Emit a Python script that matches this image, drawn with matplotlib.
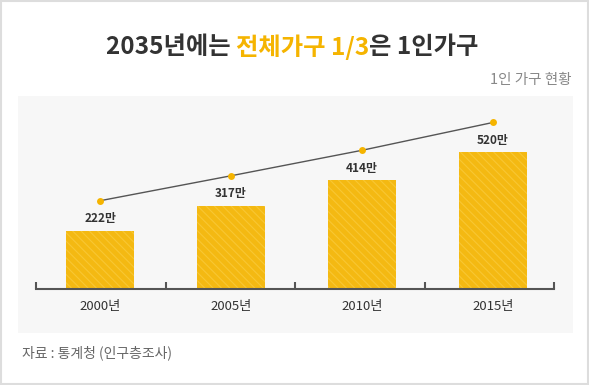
import numpy as np
import matplotlib
matplotlib.use('Agg')
import matplotlib.pyplot as plt
from matplotlib.patches import Rectangle
from matplotlib.transforms import offset_copy

plt.rcParams['font.family'] = ['Noto Sans CJK KR', 'DejaVu Sans']

years = ['2000년', '2005년', '2010년', '2015년']
households = [222, 317, 414, 520]   # 1인 가구 (만)
value_labels = ['222만', '317만', '414만', '520만']

title_parts = [('2035년에는 ', '#333333'), ('전체가구 1/3', '#f5b400'), ('은 1인가구', '#333333')]
subtitle = '1인 가구 현황'
source = '자료 : 통계청 (인구층조사)'

W, H = 589, 385
fig = plt.figure(figsize=(W/100, H/100), dpi=100)
fig.patch.set_facecolor('white')

def px(x0, y0, x1, y1):
    # pixel box (top-left origin) -> figure fraction [l, b, w, h]
    return [x0/W, 1 - y1/H, (x1 - x0)/W, (y1 - y0)/H]

# outer border and gray panel
l, b, w, h = px(1, 1, 588, 384)
fig.patches.append(Rectangle((l, b), w, h, transform=fig.transFigure,
                             facecolor='none', edgecolor='#dddddd', lw=1.5, zorder=-5))
l, b, w, h = px(18, 96, 573, 333)
fig.patches.append(Rectangle((l, b), w, h, transform=fig.transFigure,
                             facecolor='#f7f7f7', edgecolor='none', zorder=-5))

ax = fig.add_axes(px(36, 96, 554, 289))
ax.set_facecolor('none')
x = np.arange(len(years))

plt.rcParams['hatch.linewidth'] = 0.8
bars = ax.bar(x, households, width=0.52, color='#f4b912', edgecolor='#f8c733',
              hatch='\\\\\\\\', linewidth=0, zorder=2)

for xi, v, lab in zip(x, households, value_labels):
    ax.annotate(lab, (xi, v), xytext=(0, 12), textcoords='offset pixels',
                ha='center', va='center', fontsize=8.5, fontweight='bold', color='#333333')

# trend line floats above the bars
tr = offset_copy(ax.transData, fig=fig, x=0, y=30, units='dots')
ax.plot(x, households, color='#555555', lw=1.0, transform=tr, zorder=3)
ax.plot(x, households, 'o', color='#f5b400', ms=5, mec='none', transform=tr, zorder=4)

xlim = (-0.49, 3.466)
ax.set_xlim(*xlim)
ax.set_ylim(0, 735)
for s in ['top', 'left', 'right']:
    ax.spines[s].set_visible(False)
ax.spines['bottom'].set_color('#555555')
ax.spines['bottom'].set_linewidth(1.5)
ax.set_yticks([])
ax.set_xticks(x)
ax.set_xticklabels(years, fontsize=9.5, color='#333333', fontweight='medium')
ax.tick_params(axis='x', which='major', length=0, pad=8)
ax.set_xticks(np.linspace(xlim[0], xlim[1], 5), minor=True)
ax.tick_params(axis='x', which='minor', direction='in', length=5, width=1.5, color='#555555')

# title in mixed colours, centred
texts = []
for s, c in title_parts:
    texts.append(fig.text(0, 1 - 47/H, s, color=c, fontsize=17.5, fontweight='bold',
                          va='center', ha='left'))
fig.canvas.draw()
r = fig.canvas.get_renderer()
widths = [t.get_window_extent(r).width for t in texts]
xpos = 292 - sum(widths)/2
for t, wd in zip(texts, widths):
    t.set_x(xpos/W)
    xpos += wd

fig.text(572/W, 1 - 80/H, subtitle, ha='right', va='center', fontsize=10.5, color='#888888')
fig.text(22/W, 1 - 353/H, source, ha='left', va='center', fontsize=10, color='#666666')

fig.savefig('out.png', dpi=100)
